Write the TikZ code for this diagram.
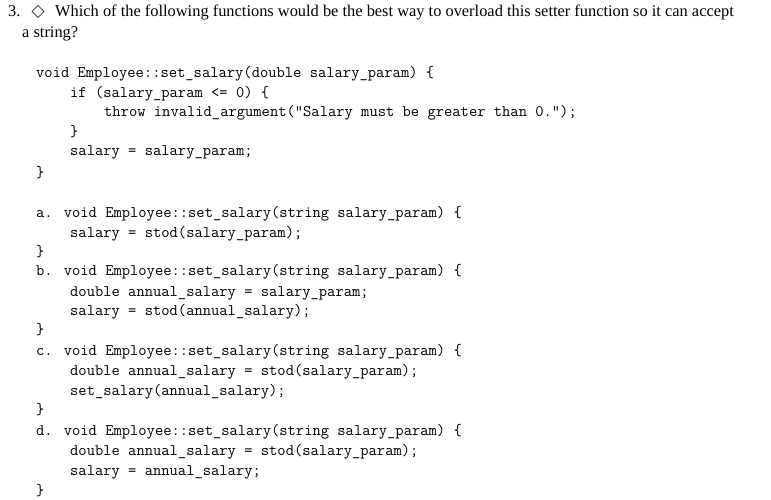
\documentclass[tikz,border=0pt]{standalone}
\usepackage{fontspec}
\setmainfont{Liberation Serif}
\begin{document}
\begin{tikzpicture}[x=1pt,y=-1pt,
  q/.style={anchor=base west,inner sep=0pt,font=\fontsize{16.4}{19}\selectfont},
  cd/.style={anchor=base west,inner sep=0pt,font=\fontsize{16.1}{18}\ttfamily}]
\useasboundingbox (0,0) rectangle (771,500);
\node[q] (n) at (8,17) {3.};
\draw[line width=0.6pt] (32,11.5) -- (38,5.5) -- (44,11.5) -- (38,17.5) -- cycle;
\node[q] (q1) at (55,17) {Which of the following functions would be the best way to overload this setter function so it can accept};
\node[q] (q2) at (22,38) {a string?};
\node[cd] (l1) at (36,78) {void Employee::set\_salary(double salary\_param) \{};
\node[cd] (l2) at (70,98) {if (salary\_param <= 0) \{};
\node[cd] (l3) at (104,117) {throw invalid\_argument("Salary must be greater than 0.");};
\node[cd] (l4) at (70,136) {\}};
\node[cd] (l5) at (70,156) {salary = salary\_param;};
\node[cd] (l6) at (36,177) {\}};
\node[cd] (a1) at (36,217) {a. void Employee::set\_salary(string salary\_param) \{};
\node[cd] (a2) at (70,237) {salary = stod(salary\_param);};
\node[cd] (a3) at (36,256) {\}};
\node[cd] (b1) at (36,275) {b. void Employee::set\_salary(string salary\_param) \{};
\node[cd] (b2) at (70,296) {double annual\_salary = salary\_param;};
\node[cd] (b3) at (70,315) {salary = stod(annual\_salary);};
\node[cd] (b4) at (36,334) {\}};
\node[cd] (c1) at (36,355) {c. void Employee::set\_salary(string salary\_param) \{};
\node[cd] (c2) at (70,375) {double annual\_salary = stod(salary\_param);};
\node[cd] (c3) at (70,395) {set\_salary(annual\_salary);};
\node[cd] (c4) at (36,414) {\}};
\node[cd] (d1) at (36,435) {d. void Employee::set\_salary(string salary\_param) \{};
\node[cd] (d2) at (70,455) {double annual\_salary = stod(salary\_param);};
\node[cd] (d3) at (70,475) {salary = annual\_salary;};
\node[cd] (d4) at (36,495) {\}};
\end{tikzpicture}
\end{document}
